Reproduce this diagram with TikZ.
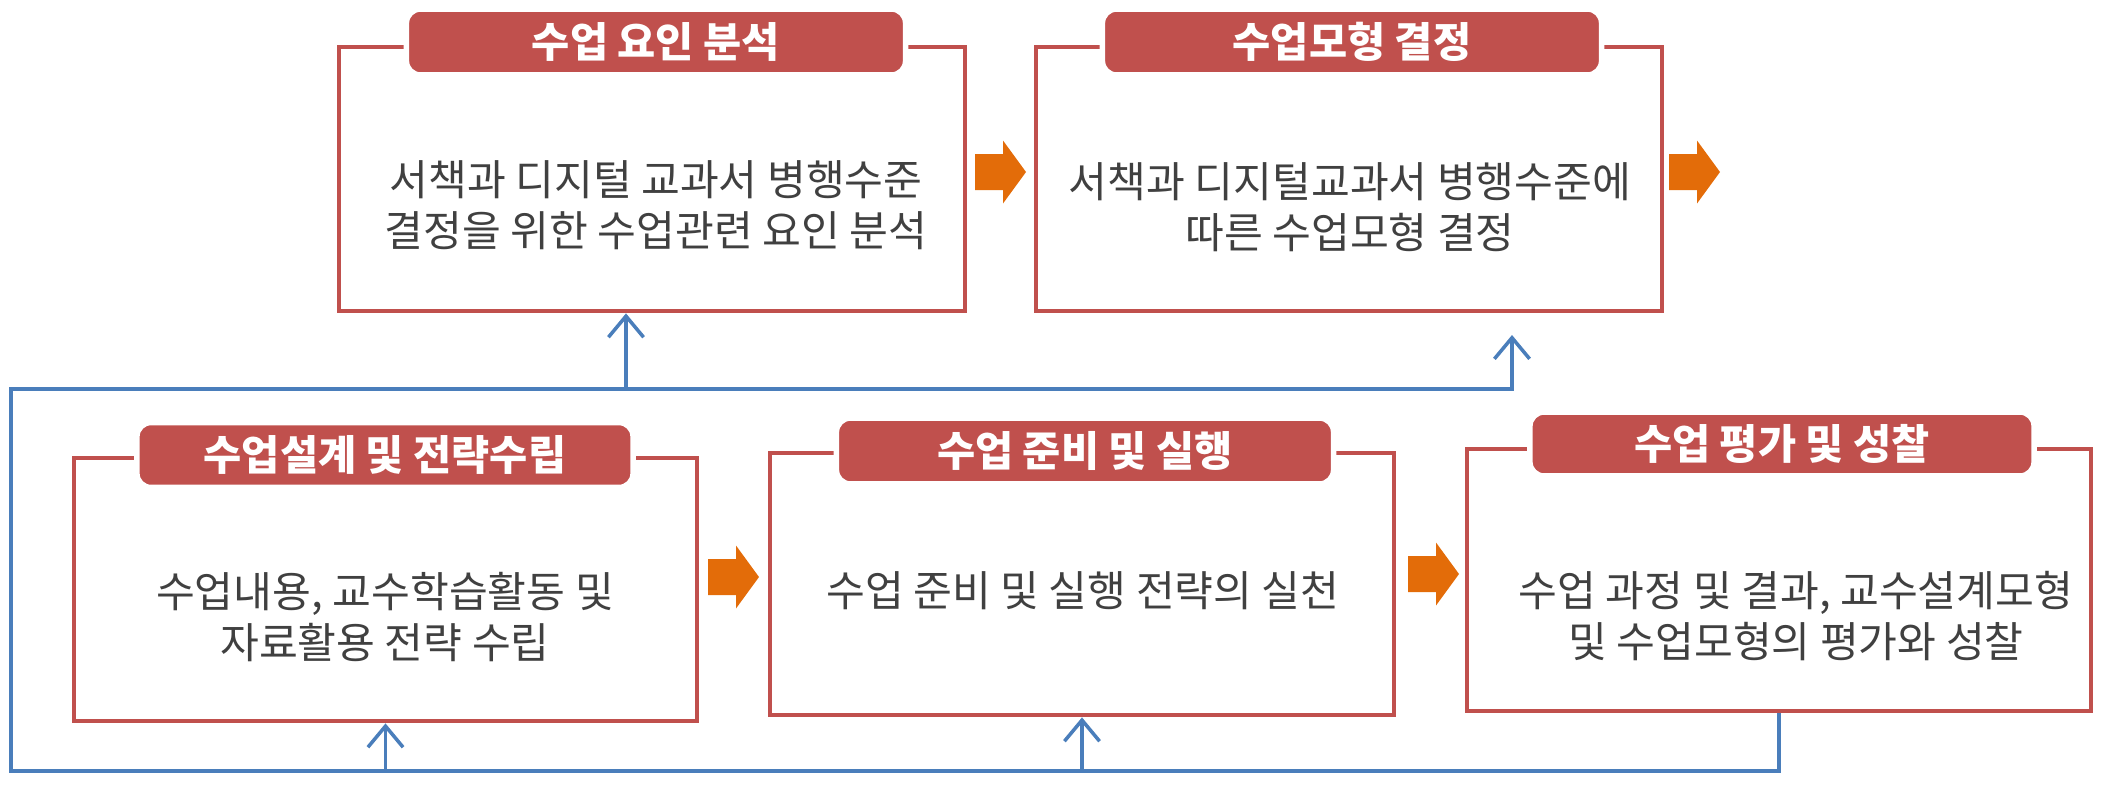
\documentclass[tikz,border=0pt]{standalone}
\usepackage{fontspec}
\usepackage{tikz}
\usetikzlibrary{arrows.meta}
\newfontfamily\kr{Noto Sans CJK KR}
\definecolor{boxred}{HTML}{C0504D}
\definecolor{arroworange}{HTML}{E36C09}
\definecolor{loopblue}{HTML}{4A7EBB}
\definecolor{textgray}{HTML}{404040}
\tikzset{
    stagebox/.style={rectangle,draw=boxred,line width=1.3pt,inner sep=0pt},
    stagetab/.style={rectangle,rounded corners=4pt,fill=boxred,draw=white,line width=1.6pt,
        text=white,font=\kr\bfseries\fontsize{11.8}{13}\selectfont,inner sep=0pt},
    stagetext/.style={align=center,text=textgray,font=\kr\fontsize{12}{14.6}\selectfont},
    fbline/.style={draw=loopblue,line width=1pt},
    blockarrow/.pic={\fill[arroworange] (0,-18) -- (28,-18) -- (28,-31.5) -- (51,0) -- (28,31.5) -- (28,18) -- (0,18) -- cycle;}
}

\begin{document}
\begin{tikzpicture}[x=0.01cm,y=-0.01cm]
        \useasboundingbox (0,0) rectangle (2102,790);
        \begin{scope}[every node/.style={stagebox}]
            \node (b1) [minimum width=6.26cm, minimum height=2.64cm] at (652, 179) {};
            \node (b2) [minimum width=6.26cm, minimum height=2.64cm] at (1349, 179) {};
            \node (b3) [minimum width=6.23cm, minimum height=2.63cm] at (385.5, 589.5) {};
            \node (b4) [minimum width=6.24cm, minimum height=2.62cm] at (1082, 584) {};
            \node (b5) [minimum width=6.24cm, minimum height=2.62cm] at (1779, 580) {};
        \end{scope}
        \begin{scope}[every node/.style={stagetab}]
            \node (h1) [minimum width=4.99cm, minimum height=0.66cm] at (656, 42) {수업 요인 분석};
            \node (h2) [minimum width=4.99cm, minimum height=0.66cm] at (1352, 42) {수업모형 결정};
            \node (h3) [minimum width=4.96cm, minimum height=0.65cm] at (385, 455) {수업설계 및 전략수립};
            \node (h4) [minimum width=4.97cm, minimum height=0.66cm] at (1085, 451) {수업 준비 및 실행};
            \node (h5) [minimum width=5.04cm, minimum height=0.64cm] at (1782, 444) {수업 평가 및 성찰};
        \end{scope}
        \begin{scope}[every node/.style={stagetext}]
            \node (t1) at (656, 205) {서책과 디지털 교과서 병행수준\\결정을 위한 수업관련 요인 분석};
            \node (t2) at (1350, 207) {서책과 디지털교과서 병행수준에\\따른 수업모형 결정};
            \node (t3) at (385, 617) {수업내용, 교수학습활동 및\\자료활용 전략 수립};
            \node (t4) at (1083, 591) {수업 준비 및 실행 전략의 실천};
            \node (t5) at (1796, 616) {수업 과정 및 결과, 교수설계모형\\및 수업모형의 평가와 성찰};
        \end{scope}
        % orange step arrows
        \pic at (975, 172) {blockarrow};
        \pic at (1669, 172) {blockarrow};
        \pic at (708, 577) {blockarrow};
        \pic at (1408, 574) {blockarrow};
        % feedback loop
        \coordinate (fbtop) at (11, 389);
        \coordinate (fbbot) at (11, 771);
        \coordinate (fbend) at (1512, 335);
        \coordinate (u1) at (626, 389);
        \draw [fbline, ->, >={Straight Barb[length=6pt,width=10pt]}] (b5.south) -- (b5.south |- fbbot) -- (fbbot) -- (fbtop) -| (fbend);
        \draw [fbline, ->, >={Straight Barb[length=6pt,width=10pt]}] (u1) -- (u1 |- b1.south);
        \draw [fbline, ->, >={Straight Barb[length=6pt,width=10pt]}] (b3.south |- fbbot) -- (b3.south);
        \draw [fbline, ->, >={Straight Barb[length=6pt,width=10pt]}] (b4.south |- fbbot) -- (b4.south);
    \end{tikzpicture}
\end{document}
